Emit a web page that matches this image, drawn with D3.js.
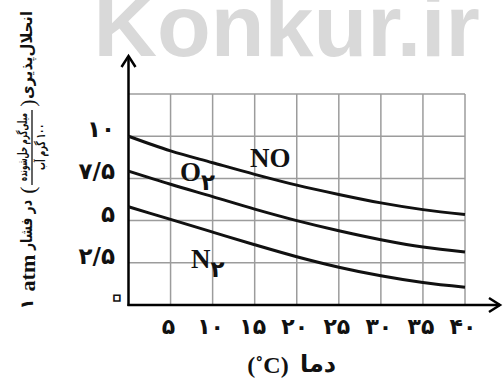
<!DOCTYPE html>
<html><head><meta charset="utf-8">
<script src="https://cdn.jsdelivr.net/npm/d3@7"></script>
<style>html,body{margin:0;padding:0;background:#fff;}svg{display:block;}</style>
</head><body>
<svg id="c" width="504" height="382"></svg>
<script>
// ---- data ----
const temps = [0, 5, 10, 15, 20, 25, 30, 35, 40];
const solNO = [10.0, 9.13, 8.43, 7.74, 7.1, 6.55, 6.05, 5.65, 5.36];
const solO2 = [7.93, 7.15, 6.42, 5.68, 5.0, 4.4, 3.87, 3.43, 3.14];
const solN2 = [5.82, 5.07, 4.32, 3.57, 2.86, 2.24, 1.73, 1.33, 1.05];
const xTickVals = [5, 10, 15, 20, 25, 30, 35, 40];
const xTickLabels = ["۵", "۱۰", "۱۵", "۲۰", "۲۵", "۳۰", "۳۵", "۴۰"];
const yTickVals = [2.5, 5, 7.5, 10];
const yTickLabels = ["۲/۵", "۵", "۷/۵", "۱۰"];
const gridY = [2.5, 5, 7.5, 10, 12.5];
const originLabel = "۰";

const svg = d3.select("#c");
const x = d3.scaleLinear().domain([0, 40]).range([128.5, 465]);
const y = d3.scaleLinear().domain([0, 12.5]).range([305, 94]);
const FA = "'DejaVu Sans', sans-serif";
const SERIF = "'Liberation Serif', 'Times New Roman', serif";

// watermark
svg.append("text").attr("x", 93.5).attr("y", 56)
  .attr("font-family", "'Liberation Sans', Arial, sans-serif").attr("font-weight", "bold").attr("font-size", 88)
  .attr("fill", "#d9d9d9").text("Konkur.ir");

// grid
const grid = svg.append("g").attr("stroke", "#9c9c9c").attr("stroke-width", 1.5);
grid.selectAll("line.v").data(xTickVals).join("line")
  .attr("x1", d => x(d)).attr("x2", d => x(d)).attr("y1", y(0)).attr("y2", y(12.5));
grid.selectAll("line.h").data(gridY).join("line")
  .attr("x1", x(0)).attr("x2", x(40)).attr("y1", d => y(d)).attr("y2", d => y(d));

// axes with arrows
const ax = svg.append("g").attr("stroke", "#000").attr("stroke-width", 2.5).attr("fill", "none");
ax.append("line").attr("x1", x(0)).attr("x2", x(0)).attr("y1", y(0) + 1).attr("y2", 56);
ax.append("path").attr("d", `M${x(0) - 7},${67} L${x(0)},${56} L${x(0) + 7},${67}`);
ax.append("line").attr("x1", x(0) - 1).attr("x2", 500).attr("y1", y(0)).attr("y2", y(0));
ax.append("path").attr("d", `M${489},${y(0) - 7} L${500},${y(0)} L${489},${y(0) + 7}`);

// curves
const line = d3.line().x((d, i) => x(temps[i])).y(d => y(d)).curve(d3.curveMonotoneX);
[solNO, solO2, solN2].forEach(s => {
  svg.append("path").attr("d", line(s)).attr("fill", "none")
    .attr("stroke", "#111").attr("stroke-width", 3);
});

// curve labels
function lab(xp, yp, main, sub) {
  const t = svg.append("text").attr("x", xp).attr("y", yp)
    .attr("font-family", SERIF).attr("font-weight", "bold").attr("font-size", 27).attr("fill", "#111").text(main);
  if (sub) {
    const w = t.node().getComputedTextLength();
    svg.append("text").attr("x", xp + w).attr("y", yp + 9)
      .attr("font-family", FA).attr("font-weight", "bold").attr("font-size", 23).attr("fill", "#111").text(sub);
  }
}
lab(250, 167, "NO");
lab(180, 181, "O", "۲");
lab(191, 268, "N", "۲");

// y tick labels
svg.selectAll("text.yt").data(yTickVals).join("text")
  .attr("x", 115).attr("y", d => y(d) + 1)
  .attr("text-anchor", "end").attr("font-family", FA).attr("font-weight", "bold")
  .attr("font-size", 23).attr("fill", "#111")
  .text((d, i) => yTickLabels[i]);
svg.append("text").attr("x", 117).attr("y", 308).attr("text-anchor", "middle")
  .attr("font-family", FA).attr("font-weight", "bold").attr("font-size", 34)
  .attr("fill", "#fff").attr("stroke", "#111").attr("stroke-width", 1.6).text(originLabel);

// x tick labels
svg.selectAll("text.xt").data(xTickVals).join("text")
  .attr("x", d => x(d) - 2).attr("y", 334)
  .attr("text-anchor", "middle").attr("font-family", FA).attr("font-weight", "bold")
  .attr("font-size", 22).attr("fill", "#111")
  .text((d, i) => xTickLabels[i]);

// x title
svg.append("text").attr("x", 318).attr("y", 372).attr("text-anchor", "middle")
  .attr("font-family", FA).attr("font-weight", "bold").attr("font-size", 24).attr("fill", "#111").text("دما");
svg.append("text").attr("x", 268).attr("y", 373).attr("text-anchor", "middle")
  .attr("font-family", SERIF).attr("font-weight", "bold").attr("font-size", 24).attr("fill", "#111").text("(˚C)");

// y title (rotated)
const yt = svg.append("g").attr("transform", "rotate(-90)").attr("fill", "#111");
function rt(pageY, pageX, txt, font, size, weight, len) {
  const t = yt.append("text").attr("x", -pageY).attr("y", pageX).attr("text-anchor", "middle")
    .attr("font-family", font).attr("font-size", size).attr("font-weight", weight).text(txt);
  if (len) t.attr("textLength", len).attr("lengthAdjust", "spacingAndGlyphs");
  return t;
}
rt(55, 32, "انحلال‌پذیری", FA, 16, "bold", 88);
rt(103, 35, ")", SERIF, 22, "normal");
rt(147, 27, "میلی‌گرم حل‌شونده", FA, 12.5, "bold", 68);
rt(147, 45, "۱۰۰ گرم آب", FA, 12.5, "bold", 46).attr("direction", "rtl").style("direction", "rtl").style("unicode-bidi", "embed");
yt.append("line").attr("x1", -185).attr("x2", -110).attr("y1", 32).attr("y2", 32)
  .attr("stroke", "#111").attr("stroke-width", 1.3);
rt(190, 35, "(", SERIF, 22, "normal");
rt(225, 32, "در فشار", FA, 16, "bold", 50);
rt(273, 35, "atm", SERIF, 20, "bold", 37);
rt(304, 33, "۱", FA, 18, "bold");
</script>
</body></html>
